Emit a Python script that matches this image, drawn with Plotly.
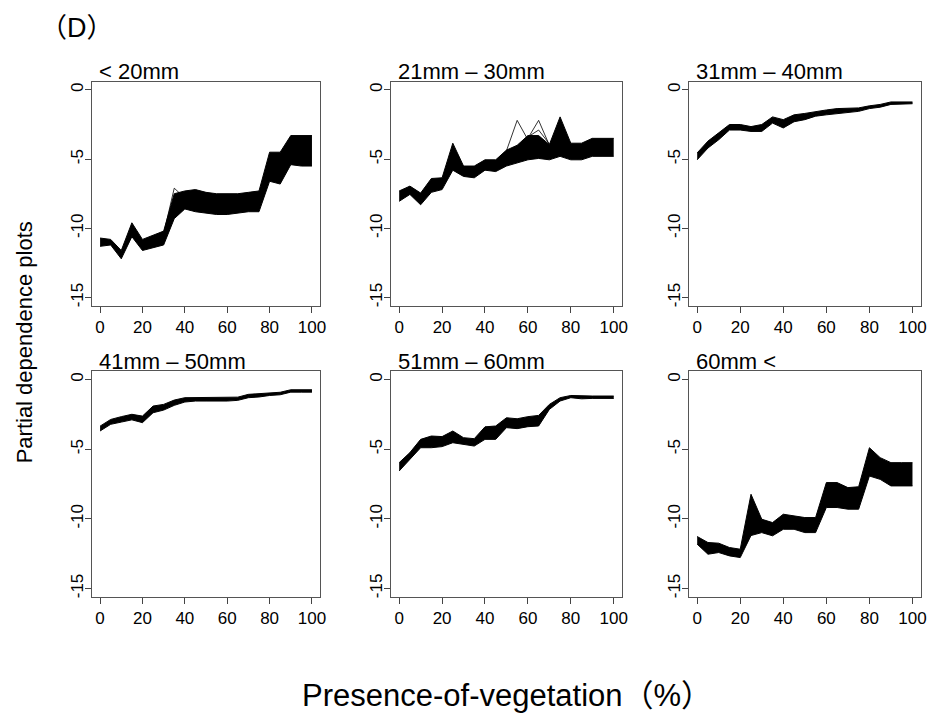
import plotly.graph_objects as go

# ---------------- data ----------------
x_pct = [0, 5, 10, 15, 20, 25, 30, 35, 40, 45, 50, 55, 60, 65, 70, 75, 80, 85, 90, 95, 100]

panel_titles = ["< 20mm", "21mm \u2013 30mm", "31mm \u2013 40mm",
                "41mm \u2013 50mm", "51mm \u2013 60mm", "60mm <"]

x_tick_vals = [0, 20, 40, 60, 80, 100]
y_tick_vals = [0, -5, -10, -15]
y_tick_text = ["0", "-5", "-10", "-15"]

# upper / lower envelopes of the bundle of partial-dependence curves
hi_lt20 = [-10.7, -10.8, -11.6, -9.6, -10.8, -10.5, -10.2, -7.5, -7.3, -7.2, -7.4,
           -7.5, -7.5, -7.5, -7.4, -7.3, -4.5, -4.5, -3.3, -3.3, -3.3]
lo_lt20 = [-11.3, -11.2, -12.2, -10.6, -11.6, -11.4, -11.2, -9.3, -8.6, -8.8, -8.9,
           -9.0, -9.0, -8.9, -8.8, -8.8, -6.6, -6.8, -5.4, -5.5, -5.5]

hi_21_30 = [-7.3, -6.95, -7.45, -6.4, -6.35, -3.85, -5.5, -5.5, -5.05, -5.05, -4.35,
            -4.0, -3.3, -3.3, -3.95, -1.95, -3.85, -3.85, -3.5, -3.5, -3.5]
lo_21_30 = [-8.05, -7.55, -8.3, -7.4, -7.2, -5.8, -6.25, -6.35, -5.8, -5.9, -5.5,
            -5.3, -5.05, -4.95, -5.05, -4.8, -5.05, -5.05, -4.8, -4.8, -4.8]

hi_31_40 = [-4.55, -3.7, -3.1, -2.5, -2.5, -2.65, -2.5, -1.95, -2.15, -1.8, -1.7,
            -1.55, -1.45, -1.35, -1.3, -1.3, -1.15, -1.05, -0.87, -0.87, -0.87]
lo_31_40 = [-5.05, -4.2, -3.6, -2.9, -2.9, -3.0, -3.0, -2.4, -2.75, -2.3, -2.15,
            -1.9, -1.8, -1.7, -1.6, -1.55, -1.35, -1.25, -1.05, -1.0, -1.0]

hi_41_50 = [-3.35, -2.87, -2.67, -2.5, -2.63, -1.91, -1.79, -1.48, -1.31, -1.31, -1.31,
            -1.31, -1.31, -1.27, -1.07, -1.02, -0.96, -0.92, -0.74, -0.74, -0.74]
lo_41_50 = [-3.7, -3.22, -3.06, -2.9, -3.1, -2.39, -2.2, -1.86, -1.62, -1.55, -1.55,
            -1.57, -1.55, -1.5, -1.31, -1.26, -1.15, -1.1, -0.91, -0.91, -0.91]

hi_51_60 = [-5.97, -5.25, -4.3, -4.06, -4.1, -3.7, -4.18, -4.25, -3.4, -3.34, -2.75,
            -2.82, -2.67, -2.58, -1.79, -1.31, -1.15, -1.19, -1.19, -1.19, -1.19]
lo_51_60 = [-6.57, -5.73, -4.9, -4.9, -4.82, -4.54, -4.66, -4.78, -4.3, -4.3, -3.46,
            -3.53, -3.39, -3.34, -2.15, -1.55, -1.31, -1.39, -1.36, -1.36, -1.36]

hi_gt60 = [-11.27, -11.7, -11.75, -12.06, -12.18, -8.24, -10.03, -10.27, -9.67, -9.79, -9.91,
           -9.91, -7.4, -7.4, -7.76, -7.7, -4.9, -5.61, -5.97, -5.97, -5.97]
lo_gt60 = [-11.82, -12.54, -12.42, -12.66, -12.78, -11.2, -10.99, -11.22, -10.75, -10.75, -10.99,
           -10.99, -9.19, -9.19, -9.31, -9.31, -6.93, -7.17, -7.64, -7.64, -7.64]

# isolated single curves that stick out of the bundles
outlier_lt20_x = [30, 35, 40]
outlier_lt20_y = [-10.4, -7.1, -7.8]
outlier_21_30_a_x = [50, 55, 60]
outlier_21_30_a_y = [-4.4, -2.2, -3.6]
outlier_21_30_b_x = [60, 65, 70]
outlier_21_30_b_y = [-3.5, -2.2, -4.0]
outlier_21_30_c_x = [60, 65, 70]
outlier_21_30_c_y = [-3.4, -2.9, -3.9]

envelopes = [(hi_lt20, lo_lt20), (hi_21_30, lo_21_30), (hi_31_40, lo_31_40),
             (hi_41_50, lo_41_50), (hi_51_60, lo_51_60), (hi_gt60, lo_gt60)]
outliers = [(0, outlier_lt20_x, outlier_lt20_y),
            (1, outlier_21_30_a_x, outlier_21_30_a_y),
            (1, outlier_21_30_b_x, outlier_21_30_b_y),
            (1, outlier_21_30_c_x, outlier_21_30_c_y)]

# ---------------- layout geometry (pixels of the 940x713 page) ----------------
W, H = 940, 713
col_px = [(92.2, 322.5), (393.1, 626.3), (693.0, 927.0)]
row_px = [(81.7, 306.3), (371.6, 597.7)]

FONT = "Liberation Sans, Arial, Helvetica, sans-serif"
CJK_FONT = "Liberation Sans, Arial, 'Noto Sans CJK JP', sans-serif"

fig = go.Figure()

def ax_names(i):
    return ("x" if i == 0 else f"x{i+1}", "y" if i == 0 else f"y{i+1}")

for i, (hi, lo) in enumerate(envelopes):
    xa, ya = ax_names(i)
    fig.add_trace(go.Scatter(x=x_pct, y=lo, xaxis=xa, yaxis=ya, mode="lines",
                             line=dict(color="black", width=1), hoverinfo="skip",
                             showlegend=False))
    fig.add_trace(go.Scatter(x=x_pct, y=hi, xaxis=xa, yaxis=ya, mode="lines",
                             line=dict(color="black", width=1), fill="tonexty",
                             fillcolor="black", hoverinfo="skip", showlegend=False))

for i, ox, oy in outliers:
    xa, ya = ax_names(i)
    fig.add_trace(go.Scatter(x=ox, y=oy, xaxis=xa, yaxis=ya, mode="lines",
                             line=dict(color="black", width=0.8), hoverinfo="skip",
                             showlegend=False))

layout = dict(width=W, height=H, autosize=False,
              margin=dict(l=0, r=0, t=0, b=0),
              paper_bgcolor="white", plot_bgcolor="white",
              font=dict(family=FONT, color="black"),
              showlegend=False)

annotations = []
for i in range(6):
    r, c = divmod(i, 3)
    x0, x1 = col_px[c]
    y0, y1 = row_px[r]
    xkey = "xaxis" if i == 0 else f"xaxis{i+1}"
    ykey = "yaxis" if i == 0 else f"yaxis{i+1}"
    xa, ya = ax_names(i)
    layout[xkey] = dict(domain=[x0 / W, x1 / W], anchor=ya, range=[-4, 104],
                        tickmode="array", tickvals=x_tick_vals,
                        ticks="outside", ticklen=6, tickwidth=1, tickcolor="#444",
                        showline=True, mirror=True, linecolor="#555", linewidth=1,
                        showgrid=False, zeroline=False,
                        tickfont=dict(size=17, family=FONT, color="black"))
    layout[ykey] = dict(domain=[1 - y1 / H, 1 - y0 / H], anchor=xa, range=[-15.6, 0.6],
                        tickmode="array", tickvals=y_tick_vals, ticktext=y_tick_text,
                        tickangle=-90, ticklabelstandoff=-5,
                        ticks="outside", ticklen=6, tickwidth=1, tickcolor="#444",
                        showline=True, mirror=True, linecolor="#555", linewidth=1,
                        showgrid=False, zeroline=False,
                        tickfont=dict(size=17, family=FONT, color="black"))
    annotations.append(dict(text=panel_titles[i], xref="paper", yref="paper",
                            x=(x0 + 5) / W, y=1 - (y0 - 10) / H,
                            xanchor="left", yanchor="middle", showarrow=False,
                            font=dict(size=22, family=FONT, color="black")))

annotations.append(dict(text="\uff08D\uff09", xref="paper", yref="paper",
                        x=38 / W, y=1 - 28 / H, xanchor="left", yanchor="middle",
                        showarrow=False,
                        font=dict(size=27, family=CJK_FONT, color="black")))
annotations.append(dict(text="Partial dependence plots", xref="paper", yref="paper",
                        x=25 / W, y=1 - 343 / H, xanchor="center", yanchor="middle",
                        textangle=-90, showarrow=False,
                        font=dict(size=22, family=FONT, color="black")))
annotations.append(dict(text="Presence-of-vegetation\uff08%\uff09", xref="paper", yref="paper",
                        x=302 / W, y=1 - 696 / H, xanchor="left", yanchor="middle",
                        showarrow=False,
                        font=dict(size=31, family=CJK_FONT, color="black")))
layout["annotations"] = annotations

fig.update_layout(**layout)
fig.write_html("out.html")
